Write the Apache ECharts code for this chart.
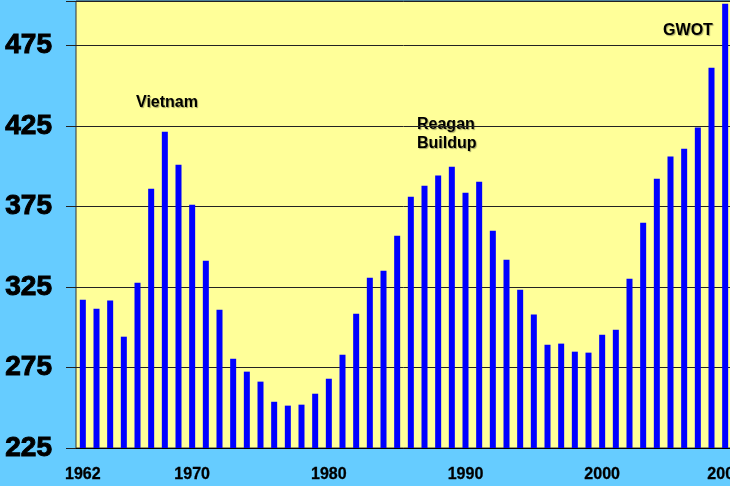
<!DOCTYPE html>
<html>
<head>
<meta charset="utf-8">
<script src="https://cdn.jsdelivr.net/npm/echarts@6/dist/echarts.min.js"></script>
<style>
html,body{margin:0;padding:0;background:#66CCFF;}
#chart{width:730px;height:486px;}
</style>
</head>
<body>
<div id="chart"></div>
<script>
var years = [];
for (var y = 1962; y <= 2009; y++) years.push(String(y));

var spending = [
  317.1, 311.5, 316.5, 294.1, 327.6, 386.0, 421.4, 400.9, 376.0, 341.3,
  310.9, 280.4, 272.4, 266.2, 253.7, 251.3, 251.9, 258.7, 268.0, 282.9,
  308.4, 330.7, 335.1, 356.8, 381.0, 387.8, 394.1, 399.6, 383.5, 390.3,
  359.9, 341.9, 323.3, 307.8, 289.1, 289.8, 284.8, 284.2, 295.3, 298.4,
  330.1, 364.9, 392.2, 405.9, 410.8, 423.9, 461.1, 500.8
];

var xTickLabels = ['1962', '1970', '1980', '1990', '2000', '2009'];
var yTickLabels = [225, 275, 325, 375, 425, 475];

var annotations = [
  { text: 'Vietnam', x: 167, y: 103, align: 'center' },
  { text: 'Reagan\nBuildup', x: 417, y: 134, align: 'left' },
  { text: 'GWOT', x: 688, y: 31, align: 'center' }
];

var chart = echarts.init(document.getElementById('chart'));
chart.setOption({
  backgroundColor: '#66CCFF',
  animation: false,
  grid: {
    left: 76, top: 1, width: 656, bottom: 38,
    outerBoundsMode: 'none',
    containLabel: false,
    show: true, backgroundColor: '#FFFF99', borderColor: '#333', borderWidth: 1
  },
  xAxis: {
    type: 'category',
    data: years,
    axisLine: { lineStyle: { color: '#000', width: 1 } },
    axisTick: { show: false },
    axisLabel: {
      interval: function (i, v) { return xTickLabels.indexOf(v) >= 0; },
      margin: 19,
      fontFamily: 'Liberation Sans, Arial, sans-serif',
      fontWeight: 'bold',
      fontSize: 16,
      color: '#000',
      textBorderColor: '#000',
      textBorderWidth: 0.3
    }
  },
  yAxis: {
    type: 'value',
    min: 225,
    max: 502.5,
    interval: 50,
    axisLine: { show: false },
    axisTick: { show: true, length: 10, lineStyle: { color: '#222' } },
    splitLine: { lineStyle: { color: '#222', width: 1 } },
    axisLabel: {
      margin: 24,
      fontFamily: 'Liberation Sans, Arial, sans-serif',
      fontWeight: 'bold',
      fontSize: 28,
      color: '#000',
      textBorderColor: '#000',
      textBorderWidth: 1,
      formatter: function (v) { return yTickLabels.indexOf(Math.round(v)) >= 0 && Math.abs(v - Math.round(v)) < 1e-6 ? String(v) : ''; }
    }
  },
  series: [{
    type: 'bar',
    data: spending,
    barWidth: 6,
    itemStyle: { color: '#0000FF' }
  }],
  graphic: annotations.map(function (a) {
    return {
      type: 'text',
      x: a.x,
      y: a.y,
      style: {
        text: a.text,
        fill: '#000',
        font: 'bold 16px "Liberation Sans", Arial, sans-serif',
        textAlign: a.align,
        textVerticalAlign: 'middle',
        lineHeight: 19,
        textShadowColor: 'rgba(0,0,0,0.35)',
        textShadowOffsetX: 1,
        textShadowOffsetY: 1,
        textShadowBlur: 1
      }
    };
  })
});
</script>
</body>
</html>
